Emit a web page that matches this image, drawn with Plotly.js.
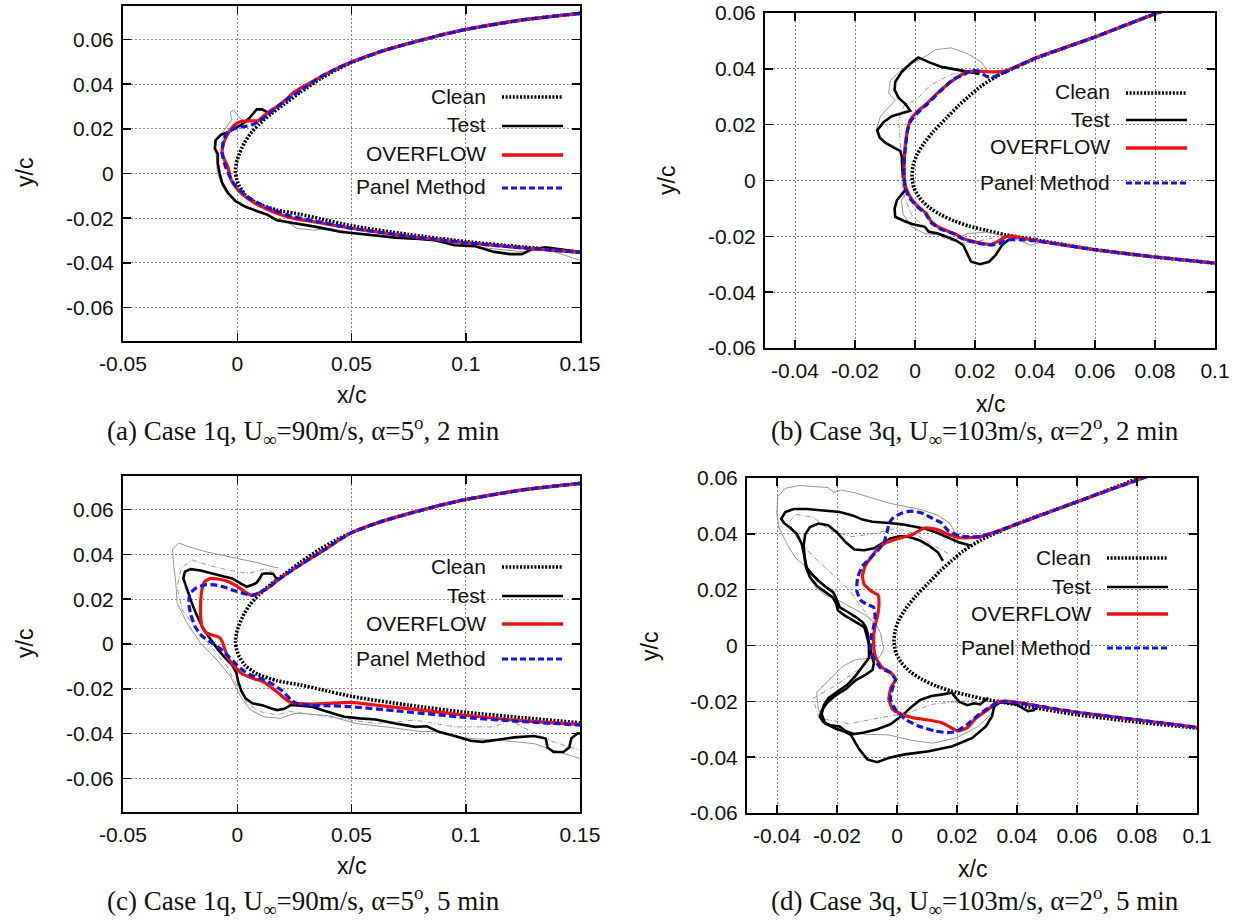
<!DOCTYPE html>
<html>
<head>
<meta charset="utf-8">
<script src="https://cdn.plot.ly/plotly-3.0.1.min.js"></script>
<style>
html, body { margin: 0; padding: 0; background: #fff; }
#chart { width: 1250px; height: 924px; }
</style>
</head>
<body>
<div id="chart"></div>
<script>
// ---------------- Tick labels ----------------
const ticks1qX = [-0.05, 0, 0.05, 0.1, 0.15];
const ticks1qXText = ['-0.05', '0', '0.05', '0.1', '0.15'];
const ticks1qY = [-0.06, -0.04, -0.02, 0, 0.02, 0.04, 0.06];
const ticks1qYText = ['-0.06', '-0.04', '-0.02', '0', '0.02', '0.04', '0.06'];
const ticks3qX = [-0.04, -0.02, 0, 0.02, 0.04, 0.06, 0.08, 0.1];
const ticks3qXText = ['-0.04', '-0.02', '0', '0.02', '0.04', '0.06', '0.08', '0.1'];
const ticks3qY = [-0.06, -0.04, -0.02, 0, 0.02, 0.04, 0.06];
const ticks3qYText = ['-0.06', '-0.04', '-0.02', '0', '0.02', '0.04', '0.06'];

const seriesNames = ['Clean', 'Test', 'OVERFLOW', 'Panel Method'];
const captions = [
  '(a) Case 1q, U<sub>∞</sub>=90m/s, α=5<sup>o</sup>, 2 min',
  '(b) Case 3q, U<sub>∞</sub>=103m/s, α=2<sup>o</sup>, 2 min',
  '(c) Case 1q, U<sub>∞</sub>=90m/s, α=5<sup>o</sup>, 5 min',
  '(d) Case 3q, U<sub>∞</sub>=103m/s, α=2<sup>o</sup>, 5 min'
];

// ---------------- Clean leading edges ----------------
const clean1q_x = [0.15, 0.125, 0.1, 0.0875, 0.075, 0.0625, 0.05, 0.043, 0.0365, 0.0277, 0.0205, 0.0145, 0.0095, 0.0055, 0.003, 0.001, -0.0003, -0.0008, -0.0004, 0.0008, 0.0036, 0.0088, 0.0175, 0.0277, 0.0365, 0.05, 0.075, 0.1, 0.125, 0.15];
const clean1q_y = [0.0717, 0.0688, 0.0645, 0.0616, 0.0582, 0.0545, 0.0497, 0.0462, 0.0425, 0.0365, 0.031, 0.0265, 0.022, 0.0175, 0.0135, 0.009, 0.005, 0.0012, -0.002, -0.0055, -0.0097, -0.0134, -0.0164, -0.0183, -0.0203, -0.0234, -0.0273, -0.0305, -0.0329, -0.0352];
const clean3q_x = [0.1, 0.08, 0.06, 0.05, 0.04, 0.028, 0.022, 0.018, 0.0145, 0.0105, 0.006, 0.003, 0.0008, -0.0006, -0.001, -0.0004, 0.0015, 0.0045, 0.0085, 0.013, 0.018, 0.0235, 0.03, 0.04, 0.06, 0.08, 0.1];
const clean3q_y = [0.0672, 0.0597, 0.0514, 0.0476, 0.0436, 0.0378, 0.0338, 0.0302, 0.0268, 0.0224, 0.0174, 0.0133, 0.0095, 0.0055, 0.0015, -0.0025, -0.0062, -0.0095, -0.0122, -0.0145, -0.0163, -0.0178, -0.0194, -0.0212, -0.0248, -0.0274, -0.0296];

// ---------------- (a) Case 1q, 2 min ----------------
const aTest_x = [0.0135, 0.0109, 0.0085, 0.0051, 0.0015, -0.0029, -0.0073, -0.0095, -0.0098, -0.0085, -0.0085, -0.0077, -0.0066, -0.0041, -0.0007, 0.0036, 0.0088, 0.0131, 0.0173, 0.0242, 0.0346, 0.045, 0.0519, 0.0588, 0.0692, 0.0796, 0.0865, 0.0952, 0.1038, 0.1125, 0.1194, 0.1246, 0.1289, 0.135, 0.15];
const aTest_y = [0.0272, 0.0287, 0.0287, 0.0246, 0.0216, 0.0191, 0.0172, 0.0149, 0.0112, 0.0087, 0.0045, 0.0, -0.0042, -0.0087, -0.0124, -0.0149, -0.0169, -0.0184, -0.0209, -0.0221, -0.0239, -0.0261, -0.0269, -0.0276, -0.0287, -0.0293, -0.0299, -0.0321, -0.0325, -0.0351, -0.0361, -0.0361, -0.034, -0.0331, -0.0352];
const aScan_x = [0.004, 0.0005, -0.0015, -0.003, -0.0025, -0.006, -0.009, -0.0095, -0.009, -0.0088, -0.0075, -0.0055, -0.002, 0.003, 0.009, 0.015, 0.0215, 0.026, 0.0336, 0.04, 0.05, 0.07, 0.09, 0.11, 0.125, 0.132, 0.14, 0.15];
const aScan_y = [0.0222, 0.0255, 0.0284, 0.0275, 0.024, 0.019, 0.0155, 0.011, 0.006, 0.001, -0.003, -0.0075, -0.0115, -0.0145, -0.0172, -0.0195, -0.0215, -0.0245, -0.0254, -0.0245, -0.0265, -0.0285, -0.0305, -0.0335, -0.035, -0.0335, -0.0355, -0.0388];
const aOver_x = [0.15, 0.125, 0.1, 0.0875, 0.075, 0.0625, 0.05, 0.043, 0.0365, 0.0305, 0.027, 0.0245, 0.0219, 0.0175, 0.0139, 0.0109, 0.0088, 0.0051, 0.0018, -0.0007, -0.0029, -0.0047, -0.0061, -0.0066, -0.0055, -0.0041, -0.0034, -0.0025, -0.0007, 0.0026, 0.0073, 0.0124, 0.0175, 0.0248, 0.0365, 0.05, 0.075, 0.1, 0.125, 0.15];
const aOver_y = [0.0717, 0.0688, 0.0645, 0.0616, 0.0582, 0.0545, 0.0499, 0.0467, 0.0433, 0.0398, 0.0378, 0.0362, 0.0336, 0.0301, 0.0276, 0.0251, 0.0236, 0.0236, 0.0234, 0.0221, 0.0197, 0.0167, 0.0131, 0.0093, 0.006, 0.003, -0.0003, -0.0033, -0.006, -0.0097, -0.013, -0.0157, -0.0179, -0.0201, -0.0221, -0.0245, -0.0281, -0.031, -0.0333, -0.0353];
const aPanel_x = [0.15, 0.125, 0.1, 0.0875, 0.075, 0.0625, 0.05, 0.043, 0.0365, 0.0277, 0.0219, 0.0168, 0.0131, 0.0102, 0.0073, 0.0041, 0.0003, -0.0029, -0.0051, -0.0063, -0.0066, -0.0058, -0.0047, -0.0032, -0.0015, 0.0012, 0.0051, 0.0102, 0.016, 0.0233, 0.0365, 0.05, 0.075, 0.1, 0.125, 0.15];
const aPanel_y = [0.0717, 0.0688, 0.0645, 0.0616, 0.0582, 0.0545, 0.0499, 0.0467, 0.0433, 0.0372, 0.0332, 0.0291, 0.0261, 0.0239, 0.0221, 0.0212, 0.0206, 0.0194, 0.0172, 0.0134, 0.009, 0.0052, 0.0018, -0.0015, -0.0045, -0.0075, -0.0109, -0.0137, -0.0164, -0.0191, -0.0218, -0.0245, -0.0281, -0.031, -0.0333, -0.0353];

// ---------------- (b) Case 3q, 2 min ----------------
const bTest_x = [0.0215, 0.0148, 0.0088, 0.0044, 0.0011, -0.0013, -0.0044, -0.0066, -0.0068, -0.0055, -0.0031, -0.0016, -0.0044, -0.0077, -0.0104, -0.0126, -0.0118, -0.0099, -0.0071, -0.0049, -0.0044, -0.0042, -0.0036, -0.0033, -0.0044, -0.006, -0.0068, -0.0066, -0.0038, -0.0011, 0.0033, 0.0046, 0.0077, 0.0107, 0.0135, 0.0161, 0.0174, 0.0187, 0.0217, 0.0247, 0.0269, 0.029, 0.0313];
const bTest_y = [0.0382, 0.0395, 0.0407, 0.0425, 0.0441, 0.0421, 0.0389, 0.0353, 0.0324, 0.0297, 0.0273, 0.025, 0.0242, 0.023, 0.021, 0.018, 0.0154, 0.0135, 0.0118, 0.0106, 0.0085, 0.0037, -0.0005, -0.0035, -0.0049, -0.007, -0.01, -0.013, -0.0144, -0.0156, -0.0166, -0.0184, -0.019, -0.0202, -0.0214, -0.0232, -0.0261, -0.0291, -0.03, -0.0291, -0.0267, -0.0232, -0.0211];
const bScan1_x = [0.0247, 0.022, 0.0174, 0.0121, 0.0069, 0.0042, 0.001, -0.003, -0.0082, -0.0088, -0.0066, -0.009, -0.0115, -0.0128, -0.011, -0.0066, -0.004, -0.0035, -0.0028, -0.0045, -0.004, -0.0011, 0.0033, 0.0088, 0.0131, 0.0174, 0.024, 0.0333, 0.0385, 0.0425];
const bScan1_y = [0.0385, 0.0425, 0.0455, 0.0475, 0.0469, 0.0449, 0.043, 0.041, 0.0359, 0.0312, 0.0288, 0.026, 0.023, 0.0185, 0.0145, 0.0121, 0.0085, 0.003, -0.0045, -0.007, -0.012, -0.0166, -0.019, -0.0196, -0.0214, -0.019, -0.0185, -0.0208, -0.0232, -0.022];
const bScan2_x = [0.02, 0.012, 0.005, 0.0005, -0.0035, -0.0055, -0.005, -0.0045, -0.0045, -0.0035, -0.001, 0.004, 0.0095, 0.015, 0.02, 0.026];
const bScan2_y = [0.0395, 0.038, 0.034, 0.029, 0.027, 0.022, 0.015, 0.008, 0.0, -0.006, -0.0125, -0.0175, -0.0205, -0.0225, -0.022, -0.0205];
const bOver_x = [0.1, 0.08, 0.06, 0.05, 0.04, 0.03, 0.0253, 0.0201, 0.0174, 0.0135, 0.0082, 0.0042, 0.0011, -0.0016, -0.0027, -0.0033, -0.0036, -0.0036, -0.0031, -0.0016, 0.0011, 0.0038, 0.0055, 0.0088, 0.0131, 0.0161, 0.0214, 0.0253, 0.0273, 0.03, 0.032, 0.0346, 0.04, 0.06, 0.08, 0.1];
const bOver_y = [0.0672, 0.0597, 0.0514, 0.0476, 0.0438, 0.0392, 0.0389, 0.0393, 0.0389, 0.0365, 0.032, 0.0278, 0.025, 0.0216, 0.0168, 0.0121, 0.0073, 0.0013, -0.0023, -0.0059, -0.0094, -0.0118, -0.0148, -0.0172, -0.019, -0.0208, -0.0223, -0.0229, -0.022, -0.0202, -0.0199, -0.0204, -0.0215, -0.0248, -0.0274, -0.0296];
const bPanel_x = [0.1, 0.08, 0.06, 0.05, 0.04, 0.03, 0.0265, 0.024, 0.0215, 0.019, 0.0165, 0.0131, 0.0082, 0.0042, 0.0011, -0.0016, -0.0026, -0.003, -0.0035, -0.0037, -0.0034, -0.002, 0.0008, 0.0036, 0.0053, 0.0085, 0.0131, 0.0161, 0.0214, 0.0253, 0.028, 0.0305, 0.035, 0.04, 0.06, 0.08, 0.1];
const bPanel_y = [0.0672, 0.0597, 0.0514, 0.0476, 0.0438, 0.0388, 0.0372, 0.0372, 0.039, 0.0395, 0.038, 0.0365, 0.0318, 0.0275, 0.0245, 0.021, 0.0175, 0.0135, 0.0085, 0.003, -0.002, -0.006, -0.0094, -0.012, -0.015, -0.0174, -0.0192, -0.021, -0.0225, -0.0231, -0.0226, -0.0213, -0.0212, -0.0216, -0.0248, -0.0274, -0.0296];

// ---------------- (c) Case 1q, 5 min ----------------
const cTest_x = [0.0175, 0.0158, 0.0131, 0.0109, 0.0099, 0.0085, 0.0061, 0.0041, 0.0018, -0.0022, -0.0058, -0.0109, -0.016, -0.0204, -0.0229, -0.0236, -0.0222, -0.0201, -0.0178, -0.0149, -0.0117, -0.0085, -0.0051, -0.0022, -0.0004, 0.0004, 0.0018, 0.0036, 0.0066, 0.0109, 0.0146, 0.0175, 0.0207, 0.0236, 0.0277, 0.0328, 0.0381, 0.0467, 0.0536, 0.0606, 0.0692, 0.0779, 0.083, 0.0882, 0.0952, 0.1021, 0.1073, 0.1142, 0.1211, 0.1298, 0.135, 0.1358, 0.1384, 0.1427, 0.1453, 0.1462, 0.1488, 0.151];
const cTest_y = [0.0285, 0.0313, 0.0316, 0.0313, 0.0293, 0.0274, 0.0262, 0.0256, 0.0268, 0.0293, 0.0301, 0.0313, 0.0328, 0.0334, 0.0323, 0.0293, 0.0249, 0.0189, 0.013, 0.007, 0.0021, -0.0024, -0.0064, -0.0094, -0.0128, -0.0168, -0.0209, -0.0243, -0.0265, -0.0273, -0.0287, -0.0295, -0.0289, -0.0272, -0.0275, -0.028, -0.0298, -0.0325, -0.0332, -0.0337, -0.0355, -0.037, -0.0367, -0.0392, -0.0411, -0.0432, -0.0437, -0.0426, -0.0417, -0.0411, -0.0422, -0.0462, -0.0482, -0.0482, -0.0462, -0.0422, -0.04, -0.0397];
const cScan1_x = [0.018, 0.0146, 0.0102, 0.0044, -0.0044, -0.0131, -0.0205, -0.0255, -0.0283, -0.0278, -0.027, -0.0263, -0.0219, -0.016, -0.0088, -0.0029, 0.0015, 0.0058, 0.0117, 0.019, 0.0248, 0.0277, 0.04, 0.0519, 0.065, 0.08, 0.0882, 0.1, 0.115, 0.13, 0.14, 0.15];
const cScan1_y = [0.034, 0.0346, 0.036, 0.0372, 0.039, 0.041, 0.0432, 0.045, 0.0425, 0.0345, 0.0286, 0.0182, 0.0092, 0.0003, -0.0072, -0.0146, -0.0235, -0.0295, -0.0325, -0.0332, -0.031, -0.031, -0.032, -0.0355, -0.037, -0.039, -0.0392, -0.042, -0.043, -0.0445, -0.048, -0.0511];
const cScan2_x = [0.016, 0.012, 0.005, -0.004, -0.012, -0.0197, -0.0245, -0.0263, -0.0241, -0.0175, -0.0102, -0.0044, -0.0007, 0.0044, 0.0102, 0.0175, 0.0225, 0.0346, 0.0606, 0.0779, 0.0952, 0.1125, 0.1194, 0.1246, 0.1384, 0.15];
const cScan2_y = [0.032, 0.0335, 0.0315, 0.033, 0.035, 0.0375, 0.034, 0.0256, 0.0152, 0.0063, -0.0027, -0.0101, -0.0176, -0.0265, -0.0302, -0.0317, -0.03, -0.0318, -0.0355, -0.034, -0.037, -0.037, -0.034, -0.037, -0.0437, -0.0474];
const cOver_x = [0.15, 0.125, 0.1, 0.0875, 0.075, 0.0625, 0.05, 0.0452, 0.0365, 0.0248, 0.0175, 0.0131, 0.009, 0.0061, 0.0032, -0.0003, -0.0041, -0.0085, -0.012, -0.0143, -0.0155, -0.016, -0.016, -0.0155, -0.0137, -0.0108, -0.0079, -0.0064, -0.0055, -0.0041, -0.0012, 0.0023, 0.0073, 0.0117, 0.0149, 0.0178, 0.0204, 0.023, 0.0263, 0.0321, 0.0394, 0.05, 0.0606, 0.0779, 0.1, 0.1211, 0.15];
const cOver_y = [0.0717, 0.0688, 0.0645, 0.0616, 0.0582, 0.0545, 0.0497, 0.0468, 0.041, 0.0335, 0.0283, 0.0248, 0.0226, 0.0217, 0.0234, 0.0259, 0.0279, 0.029, 0.0292, 0.0277, 0.0241, 0.0182, 0.0122, 0.008, 0.0051, 0.0039, 0.003, 0.0007, -0.0022, -0.006, -0.0101, -0.0134, -0.0155, -0.017, -0.0194, -0.0217, -0.024, -0.0259, -0.0265, -0.0268, -0.0265, -0.0261, -0.0273, -0.0292, -0.0318, -0.034, -0.0359];
const cPanel_x = [0.15, 0.125, 0.1, 0.0875, 0.075, 0.0625, 0.05, 0.0452, 0.0365, 0.0248, 0.0175, 0.0131, 0.009, 0.0061, 0.0029, -0.0012, -0.0055, -0.0099, -0.0143, -0.0178, -0.0207, -0.0212, -0.0204, -0.0184, -0.0155, -0.0117, -0.0076, -0.0036, -0.0006, 0.0023, 0.0061, 0.0105, 0.0149, 0.0193, 0.0233, 0.0266, 0.0328, 0.0408, 0.05, 0.0692, 0.1, 0.1211, 0.15];
const cPanel_y = [0.0717, 0.0688, 0.0645, 0.0616, 0.0582, 0.0545, 0.0497, 0.0468, 0.041, 0.0335, 0.0283, 0.0248, 0.0226, 0.0217, 0.0225, 0.0238, 0.0253, 0.0264, 0.0264, 0.0252, 0.0225, 0.018, 0.0134, 0.0077, 0.0036, 0.0009, -0.0019, -0.0057, -0.0089, -0.0116, -0.0139, -0.0155, -0.0176, -0.0206, -0.0247, -0.0268, -0.0274, -0.0276, -0.028, -0.0298, -0.0328, -0.0344, -0.0362];

// ---------------- (d) Case 3q, 5 min ----------------
const dTest1_x = [0.0245, 0.0205, 0.017, 0.0132, 0.0095, 0.0049, 0.0016, -0.0027, -0.0082, -0.0115, -0.0148, -0.0191, -0.0246, -0.0301, -0.0344, -0.0372, -0.0386, -0.0377, -0.0355, -0.0333, -0.0317, -0.0309, -0.0301, -0.0284, -0.0262, -0.0235, -0.0213, -0.0202, -0.0191, -0.0164, -0.0137, -0.0115, -0.0104, -0.0098, -0.0094, -0.0093, -0.0113, -0.0137, -0.0164, -0.02, -0.0228, -0.0244, -0.0251, -0.024, -0.0204, -0.0178, -0.0153, -0.0139, -0.0125, -0.0099, -0.0066, -0.0026, 0.0026, 0.0106, 0.0185, 0.0251, 0.0297, 0.0317, 0.0324, 0.0345, 0.0396, 0.0416, 0.0436, 0.0456, 0.0469, 0.05];
const dTest1_y = [0.0358, 0.037, 0.0387, 0.0405, 0.0418, 0.0427, 0.0434, 0.0439, 0.0443, 0.0451, 0.0466, 0.0478, 0.0483, 0.0489, 0.0489, 0.0478, 0.0454, 0.0439, 0.0421, 0.0398, 0.0362, 0.0315, 0.0279, 0.0256, 0.0232, 0.0208, 0.0191, 0.0167, 0.0137, 0.012, 0.0102, 0.0084, 0.0066, 0.0045, 0.001, -0.0044, -0.0071, -0.0107, -0.0139, -0.0167, -0.0188, -0.0214, -0.0246, -0.0279, -0.0298, -0.0307, -0.0321, -0.0348, -0.0373, -0.0408, -0.0418, -0.0402, -0.039, -0.0379, -0.0361, -0.0331, -0.0289, -0.0253, -0.0217, -0.0203, -0.0209, -0.0223, -0.0235, -0.0232, -0.0217, -0.022];
const dTest2_x = [0.0153, 0.0137, 0.0109, 0.0077, 0.0044, 0.0011, -0.0022, -0.0049, -0.0077, -0.0109, -0.0142, -0.0169, -0.0202, -0.023, -0.0262, -0.029, -0.0306, -0.0311, -0.0308, -0.0303, -0.029, -0.0268, -0.024, -0.0215, -0.0202, -0.0197, -0.0175, -0.0148, -0.0126, -0.0109, -0.0102, -0.0096, -0.0087, -0.0077, -0.0082, -0.0104, -0.0137, -0.0169, -0.0208, -0.0233, -0.025, -0.0257, -0.0246, -0.0222, -0.0191, -0.0172, -0.0145, -0.0109, -0.0066, -0.0022, 0.0016, 0.0049, 0.0077, 0.0115, 0.0153, 0.0183, 0.0193, 0.0208, 0.0235, 0.0257, 0.0277, 0.0304];
const dTest2_y = [0.0303, 0.0333, 0.0356, 0.0376, 0.0388, 0.0392, 0.0383, 0.0366, 0.0348, 0.0341, 0.0344, 0.0368, 0.0407, 0.0431, 0.0437, 0.0424, 0.0398, 0.0362, 0.0315, 0.0279, 0.0244, 0.0214, 0.0191, 0.0173, 0.0149, 0.0125, 0.0108, 0.0092, 0.0078, 0.0066, 0.004, 0.0015, -0.0032, -0.0064, -0.0088, -0.0104, -0.0124, -0.0155, -0.0181, -0.0205, -0.0231, -0.0255, -0.0274, -0.0286, -0.029, -0.0306, -0.0318, -0.0312, -0.03, -0.0282, -0.0252, -0.0219, -0.0195, -0.0181, -0.0175, -0.0169, -0.0183, -0.0202, -0.0214, -0.0207, -0.0211, -0.0187];
const dScan1_x = [0.0191, 0.0191, 0.0175, 0.0137, 0.0082, 0.0027, -0.0027, -0.0082, -0.0137, -0.0186, -0.0211, -0.023, -0.0273, -0.0328, -0.0372, -0.0397, -0.0401, -0.0393, -0.0366, -0.0339, -0.0301, -0.027, -0.027, -0.024, -0.0191, -0.0148, -0.0104, -0.0071, -0.0055, -0.0044, -0.006, -0.0137, -0.018, -0.0246, -0.0268, -0.0262, -0.0235, -0.018, -0.0104, -0.003, 0.005, 0.012, 0.02, 0.027, 0.032, 0.034];
const dScan1_y = [0.0362, 0.0409, 0.0439, 0.0466, 0.0486, 0.0498, 0.051, 0.0528, 0.0546, 0.0557, 0.0549, 0.0566, 0.0569, 0.0573, 0.0563, 0.0534, 0.0475, 0.0421, 0.0362, 0.0315, 0.0279, 0.0244, 0.0208, 0.0182, 0.0159, 0.0135, 0.0108, 0.0078, 0.0045, -0.0014, -0.0044, -0.005, -0.0074, -0.0145, -0.0169, -0.0229, -0.0276, -0.0306, -0.0318, -0.032, -0.034, -0.035, -0.033, -0.029, -0.024, -0.019];
const dScan2_x = [0.017, 0.012, 0.006, 0.0, -0.008, -0.015, -0.022, -0.028, -0.034, -0.036, -0.033, -0.028, -0.022, -0.016, -0.012, -0.008, -0.007, -0.012, -0.02, -0.028, -0.026, -0.016, -0.006, 0.004, 0.012, 0.02, 0.026];
const dScan2_y = [0.033, 0.036, 0.04, 0.042, 0.04, 0.039, 0.041, 0.046, 0.047, 0.044, 0.038, 0.032, 0.026, 0.02, 0.014, 0.008, 0.0, -0.008, -0.014, -0.019, -0.026, -0.028, -0.026, -0.024, -0.021, -0.02, -0.0195];
const dOver_x = [0.1, 0.082, 0.06, 0.045, 0.035, 0.0277, 0.0211, 0.0172, 0.0132, 0.0092, 0.0053, 0.0, -0.0038, -0.0066, -0.0087, -0.0106, -0.0115, -0.011, -0.0087, -0.0063, -0.006, -0.0064, -0.0072, -0.0078, -0.0076, -0.007, -0.005, -0.002, -0.0005, -0.002, -0.0027, -0.0014, 0.0016, 0.0049, 0.0104, 0.0148, 0.018, 0.0202, 0.0235, 0.0264, 0.0304, 0.033, 0.0357, 0.0396, 0.05, 0.06, 0.08, 0.1];
const dOver_y = [0.067, 0.06, 0.0515, 0.0455, 0.0415, 0.039, 0.0386, 0.0398, 0.0416, 0.0421, 0.0398, 0.0382, 0.0368, 0.0344, 0.0315, 0.0285, 0.025, 0.022, 0.0196, 0.018, 0.0149, 0.011, 0.0075, 0.003, -0.002, -0.0045, -0.0078, -0.0098, -0.0121, -0.0151, -0.0193, -0.0229, -0.0246, -0.0258, -0.0267, -0.0276, -0.0294, -0.0306, -0.0294, -0.0259, -0.0229, -0.0205, -0.0199, -0.0203, -0.0222, -0.0239, -0.0266, -0.0293];
const dPanel_x = [0.1, 0.082, 0.06, 0.045, 0.035, 0.0277, 0.0211, 0.0172, 0.0148, 0.0119, 0.0082, 0.0046, 0.0015, -0.0012, -0.0025, -0.0033, -0.0044, -0.0066, -0.0093, -0.0115, -0.0131, -0.0134, -0.012, -0.0098, -0.0078, -0.0073, -0.0078, -0.0087, -0.0088, -0.008, -0.0055, -0.0022, -0.0005, -0.0016, -0.0022, -0.0005, 0.0027, 0.0071, 0.0126, 0.0169, 0.0197, 0.0235, 0.0275, 0.031, 0.0335, 0.036, 0.04, 0.05, 0.06, 0.08, 0.1];
const dPanel_y = [0.067, 0.06, 0.0515, 0.0455, 0.0415, 0.039, 0.0392, 0.041, 0.0439, 0.0455, 0.0475, 0.0481, 0.0474, 0.0458, 0.044, 0.0409, 0.0368, 0.0338, 0.0309, 0.0285, 0.0244, 0.0196, 0.0161, 0.0146, 0.0137, 0.0102, 0.0066, 0.003, -0.001, -0.0038, -0.008, -0.0098, -0.0121, -0.0157, -0.0193, -0.0229, -0.0264, -0.0288, -0.0306, -0.0312, -0.0308, -0.0282, -0.0245, -0.022, -0.0205, -0.02, -0.0205, -0.0222, -0.0239, -0.0266, -0.0293];

// ---------------- Figure geometry (pixels) ----------------
const W = 1250, H = 924;
const fx = px => px / W;
const fy = py => 1 - py / H;

const SANS = 'Liberation Sans, Arial, Helvetica, sans-serif';
const SERIF = 'Liberation Serif, Times New Roman, serif';

// line styles
const styleClean = { color: '#000000', width: 3.6, dash: '2px,1.6px', shape: 'spline', smoothing: 0.6 };
const styleTest = { color: '#000000', width: 2.6 };
const styleScan = { color: '#8a8a8a', width: 0.9 };
const styleScanDash = { color: '#8f8f8f', width: 0.9, dash: '5px,2px,1px,2px' };
const styleOver = { color: '#ee1111', width: 3.2, shape: 'spline', smoothing: 0.5 };
const stylePanel = { color: '#1414e6', width: 3.2, dash: '7px,3.5px', shape: 'spline', smoothing: 0.5 };

const panels = [
  { box: [123, 580, 6, 341], xr: [-0.05, 0.15], yr: [-0.075, 0.075],
    tx: [ticks1qX, ticks1qXText], ty: [ticks1qY, ticks1qYText],
    clean: [clean1q_x, clean1q_y], scans: [[aScan_x, aScan_y]], tests: [[aTest_x, aTest_y]],
    over: [aOver_x, aOver_y], pm: [aPanel_x, aPanel_y],
    legX: 488, legY: [96, 125, 154, 187], xTitle: [351, 395], yTitle: [25, 173], cap: [303, 431] },
  { box: [765, 1215, 13, 348], xr: [-0.05, 0.1], yr: [-0.06, 0.06],
    tx: [ticks3qX, ticks3qXText], ty: [ticks3qY, ticks3qYText],
    clean: [clean3q_x, clean3q_y], scans: [[bScan1_x, bScan1_y], [bScan2_x, bScan2_y]], tests: [[bTest_x, bTest_y]],
    over: [bOver_x, bOver_y], pm: [bPanel_x, bPanel_y],
    legX: 1112, legY: [92, 119, 147, 182], xTitle: [990, 404], yTitle: [667, 181], cap: [975, 431] },
  { box: [123, 580, 476, 812], xr: [-0.05, 0.15], yr: [-0.075, 0.075],
    tx: [ticks1qX, ticks1qXText], ty: [ticks1qY, ticks1qYText],
    clean: [clean1q_x, clean1q_y], scans: [[cScan1_x, cScan1_y], [cScan2_x, cScan2_y]], tests: [[cTest_x, cTest_y]],
    over: [cOver_x, cOver_y], pm: [cPanel_x, cPanel_y],
    legX: 488, legY: [566, 595, 623, 658], xTitle: [351, 866], yTitle: [25, 644], cap: [303, 901] },
  { box: [747, 1197, 478, 813], xr: [-0.05, 0.1], yr: [-0.06, 0.06],
    tx: [ticks3qX, ticks3qXText], ty: [ticks3qY, ticks3qYText],
    clean: [clean3q_x, clean3q_y], scans: [[dScan1_x, dScan1_y], [dScan2_x, dScan2_y]], tests: [[dTest1_x, dTest1_y], [dTest2_x, dTest2_y]],
    over: [dOver_x, dOver_y], pm: [dPanel_x, dPanel_y],
    legX: 1093, legY: [557, 586, 613, 647], xTitle: [972, 869], yTitle: [650, 647], cap: [975, 901] }
];

const data = [];
const layout = {
  width: W, height: H, autosize: false,
  margin: { l: 0, r: 0, t: 0, b: 0, pad: 0 },
  paper_bgcolor: '#ffffff', plot_bgcolor: '#ffffff',
  showlegend: false,
  annotations: [], shapes: []
};

function axisCommon() {
  return {
    ticks: 'inside', ticklen: 8, tickwidth: 1.5, tickcolor: '#000',
    showline: true, linecolor: '#000', linewidth: 2, mirror: 'ticks',
    showgrid: true, gridcolor: '#8a8a8a', gridwidth: 1, griddash: '1.5px,2.5px',
    zeroline: false, fixedrange: true,
    tickfont: { family: SANS, size: 21, color: '#111' },
    ticklabelstandoff: 3
  };
}

const legendStyles = [
  { color: '#000', width: 3.6, dash: '2px,1.6px' },
  { color: '#000', width: 2.6 },
  { color: '#ee1111', width: 3.6 },
  { color: '#1414e6', width: 3.2, dash: '6px,3px' }
];

panels.forEach((p, i) => {
  const n = i === 0 ? '' : String(i + 1);
  const xa = 'x' + n, ya = 'y' + n;
  const [bx0, bx1, by0, by1] = p.box;

  layout['xaxis' + n] = Object.assign(axisCommon(), {
    domain: [fx(bx0), fx(bx1)], range: p.xr, anchor: ya,
    tickvals: p.tx[0], ticktext: p.tx[1]
  });
  layout['yaxis' + n] = Object.assign(axisCommon(), {
    domain: [fy(by1), fy(by0)], range: p.yr, anchor: xa,
    tickvals: p.ty[0], ticktext: p.ty[1]
  });

  const add = (xy, line) => data.push({
    type: 'scatter', mode: 'lines', x: xy[0], y: xy[1],
    xaxis: xa, yaxis: ya, line: line, hoverinfo: 'skip', showlegend: false
  });

  add(p.clean, styleClean);
  p.scans.forEach((s, k) => add(s, k % 2 === 0 ? styleScan : styleScanDash));
  p.tests.forEach(t => add(t, styleTest));
  add(p.over, styleOver);
  add(p.pm, stylePanel);

  // key: label text followed by a short line sample
  seriesNames.forEach((name, k) => {
    const yk = p.legY[k];
    layout.annotations.push({
      xref: 'paper', yref: 'paper', x: fx(p.legX), y: fy(yk),
      xanchor: 'right', yanchor: 'middle', showarrow: false, text: name,
      font: { family: SANS, size: 21, color: '#111' }
    });
    layout.shapes.push({
      type: 'line', xref: 'paper', yref: 'paper',
      x0: fx(p.legX + 14), x1: fx(p.legX + 75), y0: fy(yk + 1), y1: fy(yk + 1),
      line: legendStyles[k]
    });
  });

  layout.annotations.push({
    xref: 'paper', yref: 'paper', x: fx(p.xTitle[0]), y: fy(p.xTitle[1]),
    xanchor: 'center', yanchor: 'middle', showarrow: false, text: 'x/c',
    font: { family: SANS, size: 23, color: '#111' }
  });
  layout.annotations.push({
    xref: 'paper', yref: 'paper', x: fx(p.yTitle[0]), y: fy(p.yTitle[1]),
    xanchor: 'center', yanchor: 'middle', showarrow: false, text: 'y/c', textangle: -90,
    font: { family: SANS, size: 23, color: '#111' }
  });
  layout.annotations.push({
    xref: 'paper', yref: 'paper', x: fx(p.cap[0]), y: fy(p.cap[1]),
    xanchor: 'center', yanchor: 'middle', showarrow: false, text: captions[i],
    font: { family: SERIF, size: 27, color: '#111' }
  });
});

Plotly.newPlot('chart', data, layout, { staticPlot: true, displayModeBar: false });
</script>
</body>
</html>
